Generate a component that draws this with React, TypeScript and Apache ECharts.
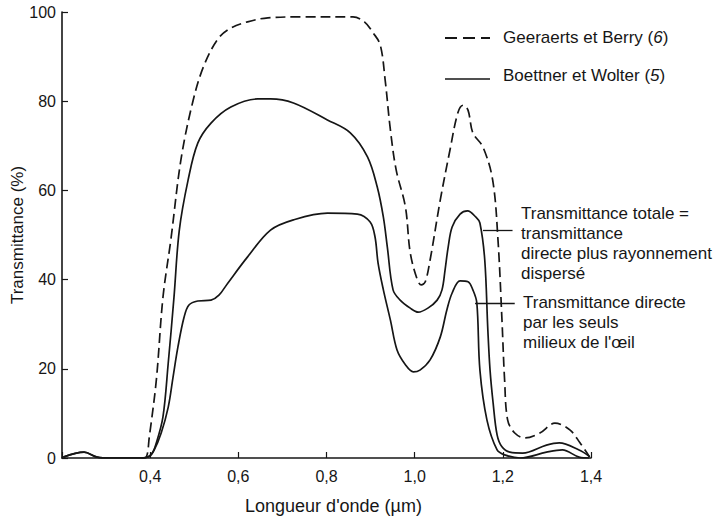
import React, { useEffect, useRef } from "react";
import * as echarts from "echarts";

const FONT = '"Liberation Sans", Arial, Helvetica, sans-serif';
const INK = "#161616";

// Geeraerts et Berry (6) — dashed
const geeraertsData: [number, number][] = [
  [0.38, 0], [0.391, 0.2], [0.398, 4.7], [0.414, 17.5], [0.429, 36], [0.447, 49],
  [0.47, 67], [0.497, 80], [0.522, 88], [0.554, 94], [0.583, 96.4], [0.621, 97.8],
  [0.667, 98.7], [0.741, 98.9], [0.86, 98.9], [0.886, 97.8], [0.906, 95.3], [0.922, 92.6],
  [0.933, 84.8], [0.945, 73.5], [0.958, 64.6], [0.979, 56.3], [0.99, 46],
  [1.006, 40], [1.015, 38.8], [1.024, 39.5], [1.035, 44.4], [1.058, 57.8],
  [1.08, 69], [1.098, 77.4], [1.11, 79.1], [1.121, 78], [1.132, 72.9],
  [1.155, 69.7], [1.177, 62.3], [1.189, 48.9], [1.198, 31], [1.204, 17.5],
  [1.211, 8.5], [1.227, 5.6], [1.25, 4.5], [1.284, 5.6], [1.318, 7.8],
  [1.352, 6.3], [1.375, 3.4], [1.397, 0.2],
];

// Boettner et Wolter (5) — transmittance totale
const totaleData: [number, number][] = [
  [0.203, 0.2], [0.25, 1.3], [0.28, 0.2], [0.31, 0], [0.38, 0], [0.402, 0.7],
  [0.414, 3.4], [0.429, 9.2], [0.441, 21.3], [0.454, 36], [0.466, 51],
  [0.486, 62.3], [0.508, 70.6], [0.538, 75.1], [0.583, 78.7], [0.644, 80.5],
  [0.673, 80.5], [0.725, 79.6], [0.802, 75.8], [0.854, 72.9], [0.893, 67.5],
  [0.915, 60.8], [0.929, 54], [0.938, 47.3], [0.951, 37.7], [0.967, 35.4],
  [0.99, 33.6], [1.008, 32.7], [1.03, 33.6], [1.051, 35.4], [1.062, 37.7],
  [1.069, 42.2], [1.076, 47.3], [1.085, 51.8], [1.103, 54.7], [1.12, 55.4],
  [1.139, 54], [1.148, 52.7], [1.159, 44.4], [1.166, 28.7], [1.171, 19.7],
  [1.178, 12.3], [1.187, 5.2], [1.198, 2.5], [1.216, 1.3], [1.245, 1.1],
  [1.299, 2.9], [1.328, 3.4], [1.373, 1.8], [1.396, 0.4],
];

// Boettner et Wolter (5) — transmittance directe
const directeData: [number, number][] = [
  [0.203, 0.2], [0.25, 1.3], [0.28, 0.2], [0.31, 0], [0.38, 0], [0.395, 0.2],
  [0.409, 1.8], [0.425, 5.6], [0.441, 11.4], [0.452, 18.2], [0.463, 24.9],
  [0.477, 31.6], [0.488, 34.3], [0.508, 35.2], [0.538, 35.4], [0.556, 36.5],
  [0.576, 39.2], [0.621, 45.1], [0.673, 51.1], [0.725, 53.4], [0.802, 54.9],
  [0.87, 54.7], [0.899, 52.9], [0.91, 49.6], [0.917, 43.7], [0.929, 37.7],
  [0.945, 30.9], [0.96, 24.2], [0.979, 20.9], [0.997, 19.3], [1.012, 19.7],
  [1.035, 22], [1.058, 27.1], [1.073, 33.2], [1.085, 37], [1.103, 39.7],
  [1.121, 39.5], [1.132, 37.7], [1.141, 34.8], [1.148, 19.7], [1.164, 8.5],
  [1.187, 1.8], [1.204, 0.7], [1.239, 0], [1.299, 1.3], [1.335, 1.8],
  [1.373, 0.2], [1.396, 0],
];

const xTicks = [0.2, 0.4, 0.6, 0.8, 1.0, 1.2, 1.4];
const yTicks = [0, 20, 40, 60, 80, 100];

const nameGeeraerts = "Geeraerts et Berry (6)";
const nameBoettner = "Boettner et Wolter (5)";

const noteTotale = "Transmittance totale =\ntransmittance\ndirecte plus rayonnement\ndispersé";
const noteDirecte = "Transmittance directe\npar les seuls\nmilieux de l'œil";

const leaderTotale: [number, number][] = [[1.155, 51.1], [1.222, 51.1]];
const leaderDirecte: [number, number][] = [[1.137, 34.75], [1.227, 34.75]];

const richName = (name: string) => {
  const m = name.match(/^(.*\()(\d+)(\))$/);
  if (!m) return `{n|${name}}`;
  return `{n|${m[1]}}{i|${m[2]}}{n|${m[3]}}`;
};

export default function App() {
  const ref = useRef<HTMLDivElement>(null);

  useEffect(() => {
    if (!ref.current) return;
    const chart = echarts.init(ref.current, undefined, { renderer: "svg" });

    const rich = {
      n: { fontFamily: FONT, fontSize: 17, fill: INK, color: INK },
      i: { fontFamily: FONT, fontSize: 17, fill: INK, color: INK, fontStyle: "italic" },
    };

    const lineBase = {
      type: "line" as const,
      showSymbol: false,
      symbol: "none",
      smooth: 0.35,
      silent: true,
    };

    chart.setOption({
      animation: false,
      backgroundColor: "#ffffff",
      textStyle: { fontFamily: FONT, color: INK },
      grid: {
        left: 62,
        right: 133,
        top: 12,
        bottom: 59,
        containLabel: false,
        outerBoundsMode: "none",
      },
      xAxis: {
        type: "value",
        min: xTicks[0],
        max: xTicks[xTicks.length - 1],
        interval: 0.2,
        name: "Longueur d'onde (µm)",
        nameLocation: "middle",
        nameGap: 39,
        nameMoveOverlap: false,
        nameTextStyle: { fontFamily: FONT, fontSize: 18, color: INK, padding: [0, 0, 0, 14] },
        axisLine: { show: true, lineStyle: { color: INK, width: 1.6 } },
        axisTick: { show: true, inside: true, length: 6, lineStyle: { color: INK, width: 1.2 } },
        splitLine: { show: false },
        axisLabel: {
          fontFamily: FONT,
          fontSize: 16,
          color: INK,
          margin: 10,
          formatter: (v: number) => (v < 0.3 ? "" : v.toFixed(1).replace(".", ",")),
        },
      },
      yAxis: {
        type: "value",
        min: yTicks[0],
        max: yTicks[yTicks.length - 1],
        interval: 20,
        name: "Transmittance (%)",
        nameLocation: "middle",
        nameGap: 36,
        nameMoveOverlap: false,
        nameRotate: 90,
        nameTextStyle: { fontFamily: FONT, fontSize: 17, color: INK },
        axisLine: { show: true, lineStyle: { color: INK, width: 1.6 } },
        axisTick: { show: true, inside: true, length: 6, lineStyle: { color: INK, width: 1.2 } },
        splitLine: { show: false },
        axisLabel: { fontFamily: FONT, fontSize: 16, color: INK, margin: 6 },
      },
      series: [
        {
          ...lineBase,
          name: nameGeeraerts,
          data: geeraertsData,
          lineStyle: { color: INK, width: 1.7, type: [10, 5] },
          itemStyle: { color: INK },
          z: 3,
        },
        {
          ...lineBase,
          name: nameBoettner,
          data: totaleData,
          lineStyle: { color: INK, width: 1.7, type: "solid" },
          itemStyle: { color: INK },
          z: 4,
          markLine: {
            silent: true,
            symbol: ["none", "none"],
            label: { show: false },
            lineStyle: { color: INK, width: 1.3, type: "solid" },
            data: [[{ coord: leaderTotale[0] }, { coord: leaderTotale[1] }]],
          },
        },
        {
          ...lineBase,
          name: nameBoettner,
          data: directeData,
          lineStyle: { color: INK, width: 1.7, type: "solid" },
          itemStyle: { color: INK },
          z: 4,
          markLine: {
            silent: true,
            symbol: ["none", "none"],
            label: { show: false },
            lineStyle: { color: INK, width: 1.3, type: "solid" },
            data: [[{ coord: leaderDirecte[0] }, { coord: leaderDirecte[1] }]],
          },
        },
      ],
      graphic: [
        // legend
        {
          type: "line",
          shape: { x1: 445, y1: 38, x2: 490, y2: 38 },
          style: { stroke: INK, lineWidth: 1.8, lineDash: [12, 6] },
        },
        {
          type: "text",
          x: 503,
          y: 37,
          style: {
            text: richName(nameGeeraerts),
            rich,
            fontFamily: FONT,
            fontSize: 17,
            fill: INK,
            verticalAlign: "middle",
          },
        },
        {
          type: "line",
          shape: { x1: 445, y1: 79, x2: 490, y2: 79 },
          style: { stroke: INK, lineWidth: 1.6 },
        },
        {
          type: "text",
          x: 503,
          y: 75,
          style: {
            text: richName(nameBoettner),
            rich,
            fontFamily: FONT,
            fontSize: 17,
            fill: INK,
            verticalAlign: "middle",
          },
        },
        // annotations
        {
          type: "text",
          left: 521,
          top: 203,
          style: {
            text: noteTotale,
            fontFamily: FONT,
            fontSize: 17,
            lineHeight: 20,
            fill: INK,
          },
        },
        {
          type: "text",
          left: 523,
          top: 292,
          style: {
            text: noteDirecte,
            fontFamily: FONT,
            fontSize: 17,
            lineHeight: 20,
            fill: INK,
          },
        },
      ],
    });

    return () => chart.dispose();
  }, []);

  return (
    <div
      ref={ref}
      style={{ position: "fixed", left: 0, top: 0, width: 724, height: 517, background: "#fff" }}
    />
  );
}
